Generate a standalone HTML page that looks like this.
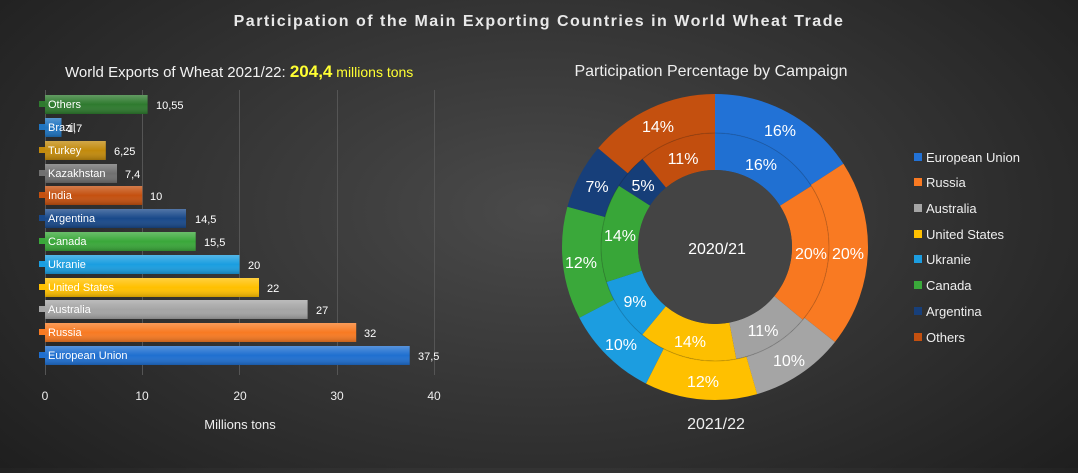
<!DOCTYPE html>
<html><head><meta charset="utf-8"><style>
html,body{margin:0;padding:0;}
body{width:1078px;height:468px;overflow:hidden;background:radial-gradient(ellipse 70% 90% at 50% 45%,#4a4a4a 0%,#333 50%,#1c1c1c 100%);font-family:"Liberation Sans",sans-serif;}
svg text{font-family:"Liberation Sans",sans-serif;}
</style></head><body>
<svg width="1078" height="468" xmlns="http://www.w3.org/2000/svg">
<defs>
<linearGradient id="sh" x1="0" y1="0" x2="0" y2="1"><stop offset="0" stop-color="#fff" stop-opacity="0.25"/><stop offset="0.5" stop-color="#fff" stop-opacity="0"/><stop offset="1" stop-color="#000" stop-opacity="0.2"/></linearGradient>
</defs>
<text x="539" y="26" text-anchor="middle" font-size="16" font-weight="bold" fill="#e8e8e8" letter-spacing="1.5">Participation of the Main Exporting Countries in World Wheat Trade</text>
<text x="65" y="77" font-size="15" fill="#f2f2f2">World Exports of Wheat 2021/22: <tspan font-weight="bold" font-size="17" fill="#ffff33">204,4</tspan><tspan fill="#ffff33" font-size="14"> millions tons</tspan></text>
<text x="711" y="76" text-anchor="middle" font-size="16" fill="#eee">Participation Percentage by Campaign</text>
<g stroke="#555" stroke-width="1">
<line x1="45.5" y1="90" x2="45.5" y2="375"/><line x1="142.5" y1="90" x2="142.5" y2="375"/><line x1="239.5" y1="90" x2="239.5" y2="375"/><line x1="337.5" y1="90" x2="337.5" y2="375"/><line x1="434.5" y1="90" x2="434.5" y2="375"/>
</g>
<g font-size="12" fill="#eee" text-anchor="middle">
<text x="45" y="400">0</text><text x="142" y="400">10</text><text x="240" y="400">20</text><text x="337" y="400">30</text><text x="434" y="400">40</text>
</g>
<text x="240" y="429" text-anchor="middle" font-size="13" fill="#eee">Millions tons</text>
<g font-size="11" fill="#fff">
<rect x="45" y="95" width="102.6" height="19" fill="#2e7a2e"/><rect x="45" y="95" width="102.6" height="19" fill="url(#sh)"/><rect x="39" y="101" width="6" height="6" fill="#2e7a2e"/><text x="48" y="108">Others</text><text x="156" y="109">10,55</text>
<rect x="45" y="118" width="16.5" height="19" fill="#1f74c0"/><rect x="45" y="118" width="16.5" height="19" fill="url(#sh)"/><rect x="39" y="124" width="6" height="6" fill="#1f74c0"/><text x="48" y="131">Brazil</text><text x="67" y="132">1,7</text>
<rect x="45" y="141" width="60.8" height="19" fill="#c28a0c"/><rect x="45" y="141" width="60.8" height="19" fill="url(#sh)"/><rect x="39" y="147" width="6" height="6" fill="#c28a0c"/><text x="48" y="154">Turkey</text><text x="114" y="155">6,25</text>
<rect x="45" y="164" width="72" height="19" fill="#707070"/><rect x="45" y="164" width="72" height="19" fill="url(#sh)"/><rect x="39" y="170" width="6" height="6" fill="#707070"/><text x="48" y="177">Kazakhstan</text><text x="125" y="178">7,4</text>
<rect x="45" y="186" width="97.3" height="19" fill="#c4500f"/><rect x="45" y="186" width="97.3" height="19" fill="url(#sh)"/><rect x="39" y="192" width="6" height="6" fill="#c4500f"/><text x="48" y="199">India</text><text x="150" y="200">10</text>
<rect x="45" y="209" width="141" height="19" fill="#19498a"/><rect x="45" y="209" width="141" height="19" fill="url(#sh)"/><rect x="39" y="215" width="6" height="6" fill="#19498a"/><text x="48" y="222">Argentina</text><text x="195" y="223">14,5</text>
<rect x="45" y="232" width="150.7" height="19" fill="#3aa83a"/><rect x="45" y="232" width="150.7" height="19" fill="url(#sh)"/><rect x="39" y="238" width="6" height="6" fill="#3aa83a"/><text x="48" y="245">Canada</text><text x="204" y="246">15,5</text>
<rect x="45" y="255" width="194.5" height="19" fill="#1a9ee0"/><rect x="45" y="255" width="194.5" height="19" fill="url(#sh)"/><rect x="39" y="261" width="6" height="6" fill="#1a9ee0"/><text x="48" y="268">Ukranie</text><text x="248" y="269">20</text>
<rect x="45" y="278" width="214" height="19" fill="#ffc000"/><rect x="45" y="278" width="214" height="19" fill="url(#sh)"/><rect x="39" y="284" width="6" height="6" fill="#ffc000"/><text x="48" y="291">United States</text><text x="267" y="292">22</text>
<rect x="45" y="300" width="262.6" height="19" fill="#a5a5a5"/><rect x="45" y="300" width="262.6" height="19" fill="url(#sh)"/><rect x="39" y="306" width="6" height="6" fill="#a5a5a5"/><text x="48" y="313">Australia</text><text x="316" y="314">27</text>
<rect x="45" y="323" width="311.2" height="19" fill="#f87a22"/><rect x="45" y="323" width="311.2" height="19" fill="url(#sh)"/><rect x="39" y="329" width="6" height="6" fill="#f87a22"/><text x="48" y="336">Russia</text><text x="364" y="337">32</text>
<rect x="45" y="346" width="364.7" height="19" fill="#1f6fd0"/><rect x="45" y="346" width="364.7" height="19" fill="url(#sh)"/><rect x="39" y="352" width="6" height="6" fill="#1f6fd0"/><text x="48" y="359">European Union</text><text x="418" y="360">37,5</text>
</g>
<g transform="translate(715,247) rotate(-90)" fill="none">
<g stroke-width="39">
<circle r="133.5" stroke="#2272d6" stroke-dasharray="132.9 838.8" stroke-dashoffset="0"/>
<circle r="133.5" stroke="#f97a22" stroke-dasharray="166.1 838.8" stroke-dashoffset="-132.9"/>
<circle r="133.5" stroke="#a5a5a5" stroke-dasharray="83.05 838.8" stroke-dashoffset="-299"/>
<circle r="133.5" stroke="#ffc000" stroke-dasharray="99.66 838.8" stroke-dashoffset="-382"/>
<circle r="133.5" stroke="#1c9de0" stroke-dasharray="83.05 838.8" stroke-dashoffset="-481.7"/>
<circle r="133.5" stroke="#3aa83a" stroke-dasharray="99.66 838.8" stroke-dashoffset="-564.7"/>
<circle r="133.5" stroke="#173f7a" stroke-dasharray="58.1 838.8" stroke-dashoffset="-664.4"/>
<circle r="133.5" stroke="#c4500f" stroke-dasharray="116.3 838.8" stroke-dashoffset="-722.5"/>
</g>
<g stroke-width="37">
<circle r="95.5" stroke="#2070d2" stroke-dasharray="96 600" stroke-dashoffset="0"/>
<circle r="95.5" stroke="#f87820" stroke-dasharray="120 600" stroke-dashoffset="-96"/>
<circle r="95.5" stroke="#a2a2a2" stroke-dasharray="66 600" stroke-dashoffset="-216"/>
<circle r="95.5" stroke="#fdbf00" stroke-dasharray="84 600" stroke-dashoffset="-282"/>
<circle r="95.5" stroke="#1a9bde" stroke-dasharray="54 600" stroke-dashoffset="-366"/>
<circle r="95.5" stroke="#38a638" stroke-dasharray="84 600" stroke-dashoffset="-420"/>
<circle r="95.5" stroke="#163e78" stroke-dasharray="30 600" stroke-dashoffset="-504"/>
<circle r="95.5" stroke="#c24e0e" stroke-dasharray="66 600" stroke-dashoffset="-534"/>
</g>
<circle r="114" stroke="#000" stroke-opacity="0.15" stroke-width="1"/>
</g>
<circle cx="715" cy="247" r="77" fill="#444"/>
<g font-size="16" fill="#fff" text-anchor="middle" dominant-baseline="middle">
<text x="717" y="250">2020/21</text>
<text x="780" y="132">16%</text><text x="848" y="255">20%</text><text x="789" y="362">10%</text><text x="703" y="383">12%</text><text x="621" y="346">10%</text><text x="581" y="264">12%</text><text x="597" y="188">7%</text><text x="658" y="128">14%</text>
<text x="761" y="166">16%</text><text x="811" y="255">20%</text><text x="763" y="332">11%</text><text x="690" y="343">14%</text><text x="635" y="303">9%</text><text x="620" y="237">14%</text><text x="643" y="187">5%</text><text x="683" y="160">11%</text>
</g>
<text x="716" y="429" text-anchor="middle" font-size="16" fill="#eee">2021/22</text>
<g font-size="13" fill="#eee">
<rect x="914" y="153" width="8" height="8" fill="#2272d6"/><text x="926" y="162">European Union</text>
<rect x="914" y="178" width="8" height="8" fill="#f97a22"/><text x="926" y="187">Russia</text>
<rect x="914" y="204" width="8" height="8" fill="#a5a5a5"/><text x="926" y="213">Australia</text>
<rect x="914" y="230" width="8" height="8" fill="#ffc000"/><text x="926" y="239">United States</text>
<rect x="914" y="255" width="8" height="8" fill="#1c9de0"/><text x="926" y="264">Ukranie</text>
<rect x="914" y="281" width="8" height="8" fill="#3aa83a"/><text x="926" y="290">Canada</text>
<rect x="914" y="307" width="8" height="8" fill="#173f7a"/><text x="926" y="316">Argentina</text>
<rect x="914" y="333" width="8" height="8" fill="#c4500f"/><text x="926" y="342">Others</text>
</g>
</svg>
</body></html>
